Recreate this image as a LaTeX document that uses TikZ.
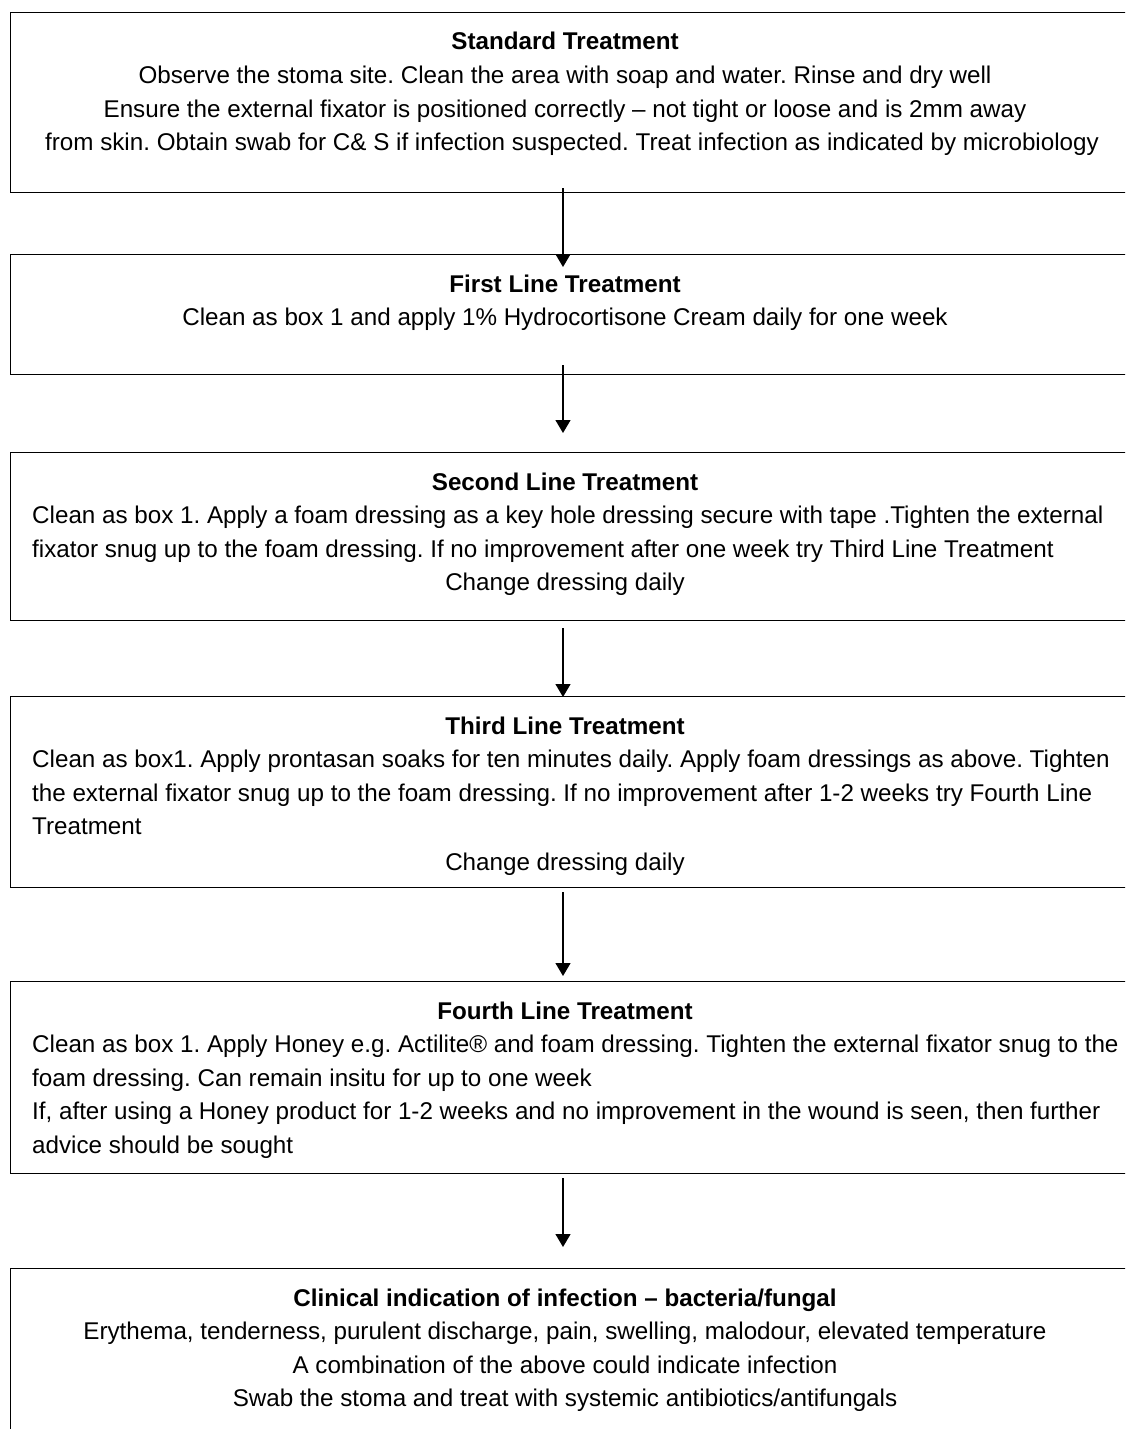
\documentclass[tikz,border=0pt]{standalone}
\usepackage{fontspec}
\setmainfont{Liberation Sans}
\usetikzlibrary{arrows.meta}
\frenchspacing
\begin{document}
\begin{tikzpicture}[x=1pt,y=-1pt,
  boxst/.style={draw=black, line width=1.4pt, anchor=north west, inner sep=0pt, minimum width=1140pt},
  ctext/.style={anchor=base, inner sep=0pt, font=\fontsize{24.2}{24}\selectfont},
  ltext/.style={anchor=base west, inner sep=0pt, font=\fontsize{24.2}{24}\selectfont},
  ttext/.style={anchor=base, inner sep=0pt, font=\fontsize{24.2}{24}\selectfont\bfseries},
  arr/.style={-{Triangle[length=13pt,width=15pt]}, line width=1.3pt}]
\useasboundingbox (0,0) rectangle (1125,1429);
\clip (0,0) rectangle (1125,1429);
\fill[white] (0,0) rectangle (1125,1429);

% boxes
\node[boxst, minimum height=180pt] (b1) at (10,12) {};
\node[boxst, minimum height=120pt] (b2) at (10,254) {};
\node[boxst, minimum height=168pt] (b3) at (10,452) {};
\node[boxst, minimum height=191pt] (b4) at (10,696) {};
\node[boxst, minimum height=192pt] (b5) at (10,981) {};
\node[boxst, minimum height=200pt] (b6) at (10,1268) {};

% box 1
\node[ttext] (t1) at (565,50) {Standard Treatment};
\node[ctext] (t1a) at (565,83.5) {Observe the stoma site. Clean the area with soap and water. Rinse and dry well};
\node[ctext] (t1b) at (565,117) {Ensure the external fixator is positioned correctly – not tight or loose and is 2mm away};
\node[ctext] (t1c) at (572,150.5) {from skin. Obtain swab for C\& S if infection suspected. Treat infection as indicated by microbiology};

% box 2
\node[ttext] (t2) at (565,292) {First Line Treatment};
\node[ctext] (t2a) at (565,325.5) {Clean as box 1 and apply 1\% Hydrocortisone Cream daily for one week};

% box 3
\node[ttext] (t3) at (565,490) {Second Line Treatment};
\node[ltext] (t3a) at (32,523.5) {Clean as box 1. Apply a foam dressing as a key hole dressing secure with tape .Tighten the external};
\node[ltext] (t3b) at (32,557) {fixator snug up to the foam dressing. If no improvement after one week try Third Line Treatment};
\node[ctext] (t3c) at (565,590.5) {Change dressing daily};

% box 4
\node[ttext] (t4) at (565,734) {Third Line Treatment};
\node[ltext] (t4a) at (32,767.5) {Clean as box1. Apply prontasan soaks for ten minutes daily. Apply foam dressings as above. Tighten};
\node[ltext] (t4b) at (32,801) {the external fixator snug up to the foam dressing. If no improvement after 1-2 weeks try Fourth Line};
\node[ltext] (t4c) at (32,834.5) {Treatment};
\node[ctext] (t4d) at (565,870) {Change dressing daily};

% box 5
\node[ttext] (t5) at (565,1019) {Fourth Line Treatment};
\node[ltext] (t5a) at (32,1052.5) {Clean as box 1. Apply Honey e.g. Actilite® and foam dressing. Tighten the external fixator snug to the};
\node[ltext] (t5b) at (32,1086) {foam dressing. Can remain insitu for up to one week};
\node[ltext] (t5c) at (32,1119.5) {If, after using a Honey product for 1-2 weeks and no improvement in the wound is seen, then further};
\node[ltext] (t5d) at (32,1153) {advice should be sought};

% box 6
\node[ttext] (t6) at (565,1306) {Clinical indication of infection – bacteria/fungal};
\node[ctext] (t6a) at (565,1339.5) {Erythema, tenderness, purulent discharge, pain, swelling, malodour, elevated temperature};
\node[ctext] (t6b) at (565,1373) {A combination of the above could indicate infection};
\node[ctext] (t6c) at (565,1406.5) {Swab the stoma and treat with systemic antibiotics/antifungals};

% arrows
\coordinate (a1s) at (563,188); \coordinate (a1e) at (563,267);
\coordinate (a2s) at (563,365); \coordinate (a2e) at (563,433);
\coordinate (a3s) at (563,628); \coordinate (a3e) at (563,697);
\coordinate (a4s) at (563,892); \coordinate (a4e) at (563,976);
\coordinate (a5s) at (563,1178); \coordinate (a5e) at (563,1247);
\draw[arr] (a1s) -- (a1e);
\draw[arr] (a2s) -- (a2e);
\draw[arr] (a3s) -- (a3e);
\draw[arr] (a4s) -- (a4e);
\draw[arr] (a5s) -- (a5e);
\end{tikzpicture}
\end{document}
